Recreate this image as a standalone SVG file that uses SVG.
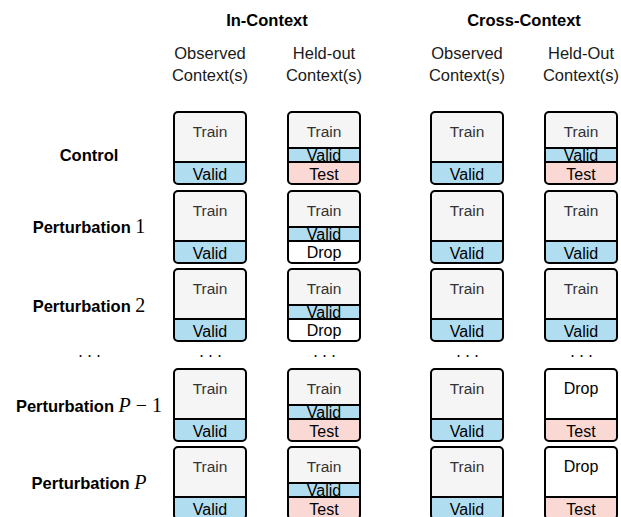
<svg xmlns="http://www.w3.org/2000/svg" xmlns:xlink="http://www.w3.org/1999/xlink" width="621" height="517" viewBox="0 0 621 517">
<style>
text{font-family:"Liberation Sans",Arial,sans-serif;}
.hdr{font-size:16.5px;font-weight:bold;text-anchor:middle;fill:#000;}
.sub{font-size:16.5px;text-anchor:middle;fill:#1a1a1a;}
.row{font-size:16.5px;font-weight:bold;text-anchor:middle;fill:#000;}
.math{font-family:"Liberation Serif","Times New Roman",serif;font-weight:normal;font-size:20px;}
.mi{font-style:italic;}
.tr{font-size:15.5px;text-anchor:middle;fill:#333;}
.bx{font-size:16px;text-anchor:middle;fill:#000;}
.dots{font-family:"Liberation Serif",serif;font-size:16px;text-anchor:middle;letter-spacing:5px;fill:#000;}
.ol{fill:none;stroke:#000;stroke-width:2;}
.sep{stroke:#000;stroke-width:2;}
</style>
<defs>
<path id="bot" d="M0,50 H72 V68 Q72,72 68,72 H4 Q0,72 0,68 Z"/>
<g id="cellA">
<rect x="0" y="0" width="72" height="72" rx="4" fill="#f5f5f5"/>
<use xlink:href="#bot" fill="#b1ddf0"/>
<line class="sep" x1="0" y1="50" x2="72" y2="50"/>
<rect class="ol" x="0" y="0" width="72" height="72" rx="4"/>
</g>
<g id="cellB">
<rect x="0" y="0" width="72" height="72" rx="4" fill="#f5f5f5"/>
<rect x="0" y="36" width="72" height="14" fill="#b1ddf0"/>
<use xlink:href="#bot" fill="#fad9d5"/>
<line class="sep" x1="0" y1="36" x2="72" y2="36"/>
<line class="sep" x1="0" y1="50" x2="72" y2="50"/>
<rect class="ol" x="0" y="0" width="72" height="72" rx="4"/>
</g>
<g id="cellC">
<rect x="0" y="0" width="72" height="72" rx="4" fill="#f5f5f5"/>
<rect x="0" y="36" width="72" height="14" fill="#b1ddf0"/>
<use xlink:href="#bot" fill="#ffffff"/>
<line class="sep" x1="0" y1="36" x2="72" y2="36"/>
<line class="sep" x1="0" y1="50" x2="72" y2="50"/>
<rect class="ol" x="0" y="0" width="72" height="72" rx="4"/>
</g>
<g id="cellD">
<rect x="0" y="0" width="72" height="72" rx="4" fill="#ffffff"/>
<use xlink:href="#bot" fill="#fad9d5"/>
<line class="sep" x1="0" y1="50" x2="72" y2="50"/>
<rect class="ol" x="0" y="0" width="72" height="72" rx="4"/>
</g>
</defs>

<g id="headers">
<text class="hdr" x="267" y="26">In-Context</text>
<text class="hdr" x="524" y="26">Cross-Context</text>
<text class="sub" x="210" y="59">Observed</text>
<text class="sub" x="210" y="81">Context(s)</text>
<text class="sub" x="324" y="59">Held-out</text>
<text class="sub" x="324" y="81">Context(s)</text>
<text class="sub" x="467" y="59">Observed</text>
<text class="sub" x="467" y="81">Context(s)</text>
<text class="sub" x="581" y="59">Held-Out</text>
<text class="sub" x="581" y="81">Context(s)</text>
</g>

<g id="row-labels">
<text class="row" x="89" y="161">Control</text>
<text class="row" x="89" y="233">Perturbation <tspan class="math">1</tspan></text>
<text class="row" x="89" y="312">Perturbation <tspan class="math">2</tspan></text>
<text class="row" x="89" y="412">Perturbation <tspan class="math mi">P</tspan><tspan class="math"> − 1</tspan></text>
<text class="row" x="89" y="489">Perturbation <tspan class="math mi">P</tspan></text>
</g>

<g id="ellipses">
<text class="dots" x="92" y="357">...</text>
<text class="dots" x="213" y="357">...</text>
<text class="dots" x="327" y="357">...</text>
<text class="dots" x="470" y="357">...</text>
<text class="dots" x="584" y="357">...</text>
</g>

<!-- Row 0: Control -->
<g id="r0c1"><use xlink:href="#cellA" x="174" y="112"/><text class="tr" x="210" y="137">Train</text><text class="bx" x="210" y="180">Valid</text></g>
<g id="r0c2"><use xlink:href="#cellB" x="288" y="112"/><text class="tr" x="324" y="137">Train</text><text class="bx" x="324" y="161">Valid</text><text class="bx" x="324" y="180">Test</text></g>
<g id="r0c3"><use xlink:href="#cellA" x="431" y="112"/><text class="tr" x="467" y="137">Train</text><text class="bx" x="467" y="180">Valid</text></g>
<g id="r0c4"><use xlink:href="#cellB" x="545" y="112"/><text class="tr" x="581" y="137">Train</text><text class="bx" x="581" y="161">Valid</text><text class="bx" x="581" y="180">Test</text></g>

<!-- Row 1 -->
<g id="r1c1"><use xlink:href="#cellA" x="174" y="191"/><text class="tr" x="210" y="216">Train</text><text class="bx" x="210" y="259">Valid</text></g>
<g id="r1c2"><use xlink:href="#cellC" x="288" y="191"/><text class="tr" x="324" y="216">Train</text><text class="bx" x="324" y="240">Valid</text><text class="bx" x="324" y="258">Drop</text></g>
<g id="r1c3"><use xlink:href="#cellA" x="431" y="191"/><text class="tr" x="467" y="216">Train</text><text class="bx" x="467" y="259">Valid</text></g>
<g id="r1c4"><use xlink:href="#cellA" x="545" y="191"/><text class="tr" x="581" y="216">Train</text><text class="bx" x="581" y="259">Valid</text></g>

<!-- Row 2 -->
<g id="r2c1"><use xlink:href="#cellA" x="174" y="269"/><text class="tr" x="210" y="294">Train</text><text class="bx" x="210" y="337">Valid</text></g>
<g id="r2c2"><use xlink:href="#cellC" x="288" y="269"/><text class="tr" x="324" y="294">Train</text><text class="bx" x="324" y="318">Valid</text><text class="bx" x="324" y="336">Drop</text></g>
<g id="r2c3"><use xlink:href="#cellA" x="431" y="269"/><text class="tr" x="467" y="294">Train</text><text class="bx" x="467" y="337">Valid</text></g>
<g id="r2c4"><use xlink:href="#cellA" x="545" y="269"/><text class="tr" x="581" y="294">Train</text><text class="bx" x="581" y="337">Valid</text></g>

<!-- Row 3: P-1 -->
<g id="r3c1"><use xlink:href="#cellA" x="174" y="369"/><text class="tr" x="210" y="394">Train</text><text class="bx" x="210" y="437">Valid</text></g>
<g id="r3c2"><use xlink:href="#cellB" x="288" y="369"/><text class="tr" x="324" y="394">Train</text><text class="bx" x="324" y="418">Valid</text><text class="bx" x="324" y="437">Test</text></g>
<g id="r3c3"><use xlink:href="#cellA" x="431" y="369"/><text class="tr" x="467" y="394">Train</text><text class="bx" x="467" y="437">Valid</text></g>
<g id="r3c4"><use xlink:href="#cellD" x="545" y="369"/><text class="bx" x="581" y="394">Drop</text><text class="bx" x="581" y="437">Test</text></g>

<!-- Row 4: P -->
<g id="r4c1"><use xlink:href="#cellA" x="174" y="447"/><text class="tr" x="210" y="472">Train</text><text class="bx" x="210" y="515">Valid</text></g>
<g id="r4c2"><use xlink:href="#cellB" x="288" y="447"/><text class="tr" x="324" y="472">Train</text><text class="bx" x="324" y="496">Valid</text><text class="bx" x="324" y="515">Test</text></g>
<g id="r4c3"><use xlink:href="#cellA" x="431" y="447"/><text class="tr" x="467" y="472">Train</text><text class="bx" x="467" y="515">Valid</text></g>
<g id="r4c4"><use xlink:href="#cellD" x="545" y="447"/><text class="bx" x="581" y="472">Drop</text><text class="bx" x="581" y="515">Test</text></g>
</svg>
